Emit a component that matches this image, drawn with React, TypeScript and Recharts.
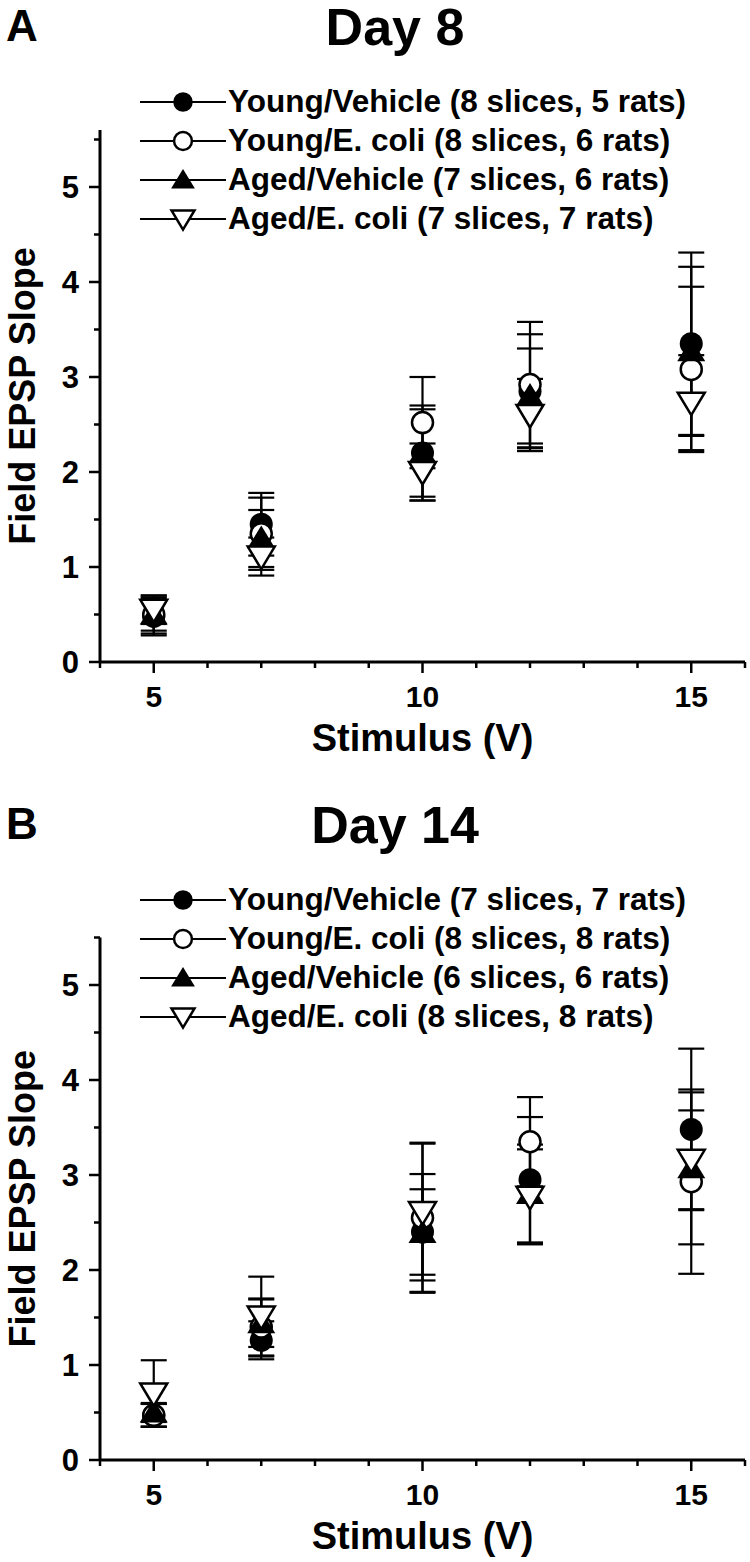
import React from "react";
import { ScatterChart, Scatter, XAxis, YAxis, ErrorBar, Legend } from "recharts";

const FONT = "'Liberation Sans', Arial, sans-serif";

// stimulus voltages
const stimulus = [5, 7, 10, 12, 15];

// Day 8 (mean field EPSP slope, SEM)
const d8YoungVeh = [0.48, 1.45, 2.2, 2.85, 3.35];
const d8YoungVehErr = [0.2, 0.33, 0.5, 0.6, 0.96];
const d8YoungEcoli = [0.5, 1.35, 2.52, 2.92, 3.08];
const d8YoungEcoliErr = [0.2, 0.38, 0.48, 0.66, 0.87];
const d8AgedVeh = [0.5, 1.3, 2.2, 2.8, 3.27];
const d8AgedVehErr = [0.17, 0.3, 0.46, 0.5, 0.89];
const d8AgedEcoli = [0.55, 1.11, 2.0, 2.6, 2.73];
const d8AgedEcoliErr = [0.15, 0.2, 0.3, 0.38, 0.5];

// Day 14
const d14YoungVeh = [0.47, 1.26, 2.4, 2.95, 3.48];
const d14YoungVehErr = [0.12, 0.2, 0.45, 0.66, 0.85];
const d14YoungEcoli = [0.47, 1.4, 2.55, 3.35, 2.93];
const d14YoungEcoliErr = [0.12, 0.3, 0.79, 0.47, 0.97];
const d14AgedVeh = [0.5, 1.44, 2.39, 2.8, 3.07];
const d14AgedVehErr = [0.1, 0.25, 0.62, 0.52, 0.8];
const d14AgedEcoli = [0.7, 1.51, 2.61, 2.77, 3.16];
const d14AgedEcoliErr = [0.35, 0.42, 0.72, 0.5, 0.52];

const d8Labels = [
  "Young/Vehicle (8 slices, 5 rats)",
  "Young/E. coli (8 slices, 6 rats)",
  "Aged/Vehicle (7 slices, 6 rats)",
  "Aged/E. coli (7 slices, 7 rats)",
];
const d14Labels = [
  "Young/Vehicle (7 slices, 7 rats)",
  "Young/E. coli (8 slices, 8 rats)",
  "Aged/Vehicle (6 slices, 6 rats)",
  "Aged/E. coli (8 slices, 8 rats)",
];

const xTicks = [4, 5, 6, 7, 8, 9, 10, 11, 12, 13, 14, 15, 16];
const yTicks = [0, 0.5, 1, 1.5, 2, 2.5, 3, 3.5, 4, 4.5, 5, 5.5];

const markerKinds = ["filledCircle", "openCircle", "filledTriangle", "openTriangle"];

const toPoints = (vals: number[], errs: number[]) =>
  stimulus.map((x, i) => ({ x, y: vals[i], err: errs[i] }));

const Marker = ({ kind, cx, cy, s = 1 }: any) => {
  if (cx == null || cy == null) return null;
  if (kind === "filledCircle") return <circle cx={cx} cy={cy} r={11.5 * s} fill="#000" />;
  if (kind === "openCircle")
    return <circle cx={cx} cy={cy} r={10.5 * s} fill="#fff" stroke="#000" strokeWidth={2.5} />;
  if (kind === "filledTriangle")
    return (
      <polygon
        points={`${cx},${cy - 13 * s} ${cx - 14 * s},${cy + 10 * s} ${cx + 14 * s},${cy + 10 * s}`}
        fill="#000"
      />
    );
  return (
    <polygon
      points={`${cx - 13.5 * s},${cy - 10 * s} ${cx + 13.5 * s},${cy - 10 * s} ${cx},${cy + 12.5 * s}`}
      fill="#fff"
      stroke="#000"
      strokeWidth={2.5}
    />
  );
};

const LegendBox = ({ labels }: { labels: string[] }) => (
  <div style={{ fontFamily: FONT, fontWeight: "bold", fontSize: 31.5, color: "#000" }}>
    {labels.map((name, i) => (
      <div key={name} style={{ display: "flex", alignItems: "center", height: 39 }}>
        <svg width={88} height={30} style={{ flex: "none" }}>
          <line x1={0} y1={15} x2={86} y2={15} stroke="#000" strokeWidth={2} />
          <Marker kind={markerKinds[i]} cx={43} cy={15} s={0.85} />
        </svg>
        <span style={{ whiteSpace: "nowrap", lineHeight: "39px" }}>{name}</span>
      </div>
    ))}
  </div>
);

const XTick = ({ x, y, payload }: any) => {
  const v = payload.value;
  const major = v % 5 === 0;
  return (
    <g>
      <line x1={x} y1={y} x2={x} y2={y + (major ? 11 : 6)} stroke="#000" strokeWidth={2.5} />
      {major && (
        <text
          x={x}
          y={y + 34}
          textAnchor="middle"
          dominantBaseline="central"
          fontFamily={FONT}
          fontWeight="bold"
          fontSize={30}
          fill="#000"
        >
          {v}
        </text>
      )}
    </g>
  );
};

const YTick = ({ x, y, payload }: any) => {
  const v = payload.value;
  const major = Number.isInteger(v);
  return (
    <g>
      <line x1={x} y1={y} x2={x - (major ? 11 : 6)} y2={y} stroke="#000" strokeWidth={2.5} />
      {major && (
        <text
          x={x - 21}
          y={y}
          textAnchor="end"
          dominantBaseline="central"
          fontFamily={FONT}
          fontWeight="bold"
          fontSize={31}
          fill="#000"
        >
          {v}
        </text>
      )}
    </g>
  );
};

interface PanelProps {
  letter: string;
  title: string;
  labels: string[];
  series: { vals: number[]; errs: number[] }[];
  height: number;
  top: number;
  yMax: number;
}

const Panel = ({ letter, title, labels, series, height, top, yMax }: PanelProps) => {
  const plotBottom = 662;
  const plotTop = plotBottom - yMax * 95;
  return (
    <div style={{ position: "absolute", left: 0, top, width: 750, height }}>
      <div
        style={{
          position: "absolute",
          left: 6,
          top: 0,
          fontFamily: FONT,
          fontWeight: "bold",
          fontSize: 44,
          lineHeight: "52px",
        }}
      >
        {letter}
      </div>
      <div
        style={{
          position: "absolute",
          left: 0,
          width: 790,
          top: 0,
          textAlign: "center",
          fontFamily: FONT,
          fontWeight: "bold",
          fontSize: 52,
          lineHeight: "54px",
        }}
      >
        {title}
      </div>
      <ScatterChart
        width={750}
        height={height}
        margin={{ top: plotTop, right: 5, bottom: 0, left: 0 }}
      >
        <XAxis
          type="number"
          dataKey="x"
          domain={[4, 16]}
          ticks={xTicks}
          interval={0}
          height={height - plotBottom}
          tick={<XTick />}
          tickSize={0}
          tickMargin={0}
          tickLine={false}
          axisLine={{ stroke: "#000", strokeWidth: 3 }}
          label={{
            content: ({ viewBox }: any) => (
              <text
                x={viewBox.x + viewBox.width / 2}
                y={viewBox.y + 76}
                textAnchor="middle"
                dominantBaseline="central"
                fontFamily={FONT}
                fontWeight="bold"
                fontSize={38}
                fill="#000"
              >
                Stimulus (V)
              </text>
            ),
          }}
        />
        <YAxis
          type="number"
          dataKey="y"
          domain={[0, yMax]}
          ticks={yTicks}
          interval={0}
          width={100}
          tick={<YTick />}
          tickSize={0}
          tickMargin={0}
          tickLine={false}
          axisLine={{ stroke: "#000", strokeWidth: 3 }}
          label={{
            content: ({ viewBox }: any) => (
              <text
                transform={`translate(35, ${viewBox.y + viewBox.height / 2}) rotate(-90)`}
                textAnchor="middle"
                fontFamily={FONT}
                fontWeight="bold"
                fontSize={36}
                fill="#000"
              >
                Field EPSP Slope
              </text>
            ),
          }}
        />
        <Legend
          layout="vertical"
          align="center"
          verticalAlign="middle"
          wrapperStyle={{ left: 140, top: 82, width: 610 }}
          content={() => <LegendBox labels={labels} />}
        />
        {series.map((s, i) => (
          <Scatter
            key={labels[i]}
            name={labels[i]}
            data={toPoints(s.vals, s.errs)}
            isAnimationActive={false}
            shape={(p: any) => <Marker kind={markerKinds[i]} cx={p.cx} cy={p.cy} />}
          >
            <ErrorBar dataKey="err" direction="y" width={13} stroke="#000" strokeWidth={2.2} />
          </Scatter>
        ))}
      </ScatterChart>
    </div>
  );
}

export default function App() {
  return (
    <div style={{ position: "absolute", left: 0, top: 0, width: 750, height: 1562, background: "#fff" }}>
      <Panel
        letter="A"
        title="Day 8"
        labels={d8Labels}
        height={798}
        top={0}
        yMax={5.6}
        series={[
          { vals: d8YoungVeh, errs: d8YoungVehErr },
          { vals: d8YoungEcoli, errs: d8YoungEcoliErr },
          { vals: d8AgedVeh, errs: d8AgedVehErr },
          { vals: d8AgedEcoli, errs: d8AgedEcoliErr },
        ]}
      />
      <Panel
        letter="B"
        title="Day 14"
        labels={d14Labels}
        height={764}
        top={798}
        yMax={5.5}
        series={[
          { vals: d14YoungVeh, errs: d14YoungVehErr },
          { vals: d14YoungEcoli, errs: d14YoungEcoliErr },
          { vals: d14AgedVeh, errs: d14AgedVehErr },
          { vals: d14AgedEcoli, errs: d14AgedEcoliErr },
        ]}
      />
    </div>
  );
}
